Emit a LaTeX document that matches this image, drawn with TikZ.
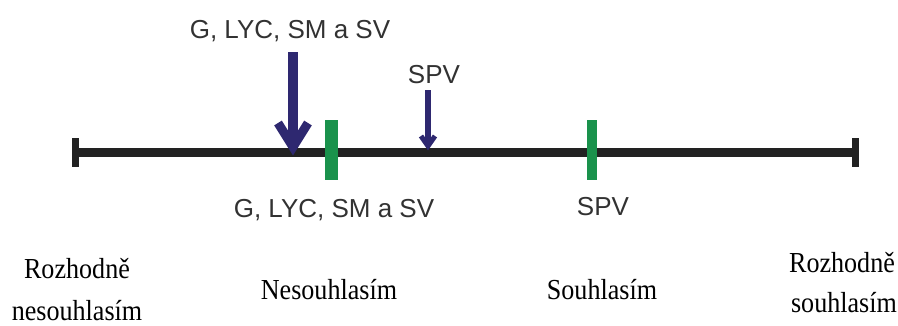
\documentclass[tikz,border=0pt]{standalone}
\usepackage{fontspec}
\setmainfont{Liberation Serif}
\newfontfamily\labfont{Liberation Sans}
\definecolor{navy}{RGB}{46,40,112}
\definecolor{bargreen}{RGB}{26,146,76}
\definecolor{axis}{RGB}{34,34,34}
\definecolor{marktext}{RGB}{50,50,50}
\begin{document}
\begin{tikzpicture}[x=1pt,y=-1pt,
  mark label/.style={font=\labfont\fontsize{26}{28}\selectfont, text=marktext, inner sep=0pt, anchor=base},
  scale label/.style={font=\fontsize{29}{31}\selectfont, inner sep=0pt, anchor=base, xscale=0.9},
  greenbar/.style={fill=bargreen, draw=none},
  bigarrow/.style={draw=navy, line width=10pt},
  bigbarb/.style={draw=navy, line width=9pt, line join=miter},
  smallarrow/.style={draw=navy, line width=6pt},
  smallbarb/.style={draw=navy, line width=5pt, line join=miter}]
\useasboundingbox (0,0) rectangle (898,325);
\fill[white] (0,0) rectangle (898,325);
% axis
\coordinate (L) at (75,152);
\coordinate (R) at (855,152);
\draw[axis, line width=9pt] (L) -- (R);
\draw[axis, line width=7pt] (75,138) -- (75,167);
\draw[axis, line width=7pt] (855,138) -- (855,167);
% green bars
\fill[greenbar] (325,120) rectangle (338,180);
\fill[greenbar] (587,120) rectangle (597,180);
% labels
\node[mark label] (gtop) at (290,38) {G, LYC, SM a SV};
\node[mark label] (stop) at (434,83) {SPV};
\node[mark label] (gbot) at (334,217) {G, LYC, SM a SV};
\node[mark label] (sbot) at (603,215) {SPV};
% big arrow
\coordinate (bt) at (293,147);
\draw[bigarrow] (293,52) -- (293,140);
\draw[bigbarb] (278,123) -- (bt) -- (308,123);
% small arrow
\coordinate (st) at (428,146);
\draw[smallarrow] (428,90) -- (428,142);
\draw[smallbarb] (421,136) -- (st) -- (435,136);
% scale labels
\node[scale label] (r1) at (77,278) {Rozhodně};
\node[scale label] (r2) at (77,320) {nesouhlasím};
\node[scale label] (n) at (329,299) {Nesouhlasím};
\node[scale label] (s) at (602,299) {Souhlasím};
\node[scale label] (r3) at (842,272) {Rozhodně};
\node[scale label] (r4) at (844,312) {souhlasím};
\end{tikzpicture}
\end{document}
